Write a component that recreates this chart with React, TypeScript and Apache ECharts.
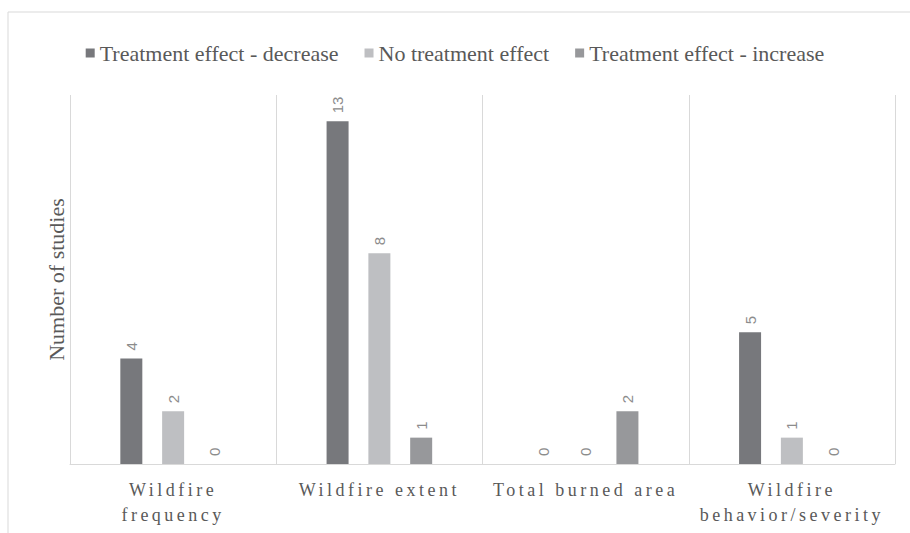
import React, { useEffect, useRef, useState } from "react";
import * as echarts from "echarts";

const categories = ["Wildfire\nfrequency", "Wildfire extent", "Total burned area", "Wildfire\nbehavior/severity"];
const seriesNames = ["Treatment effect - decrease", "No treatment effect", "Treatment effect - increase"];
const decreaseValues = [4, 13, 0, 5];
const noEffectValues = [2, 8, 0, 1];
const increaseValues = [0, 1, 2, 0];
const colors = ["#77787c", "#bebfc2", "#97989b"];

export default function App() {
  const ref = useRef<HTMLDivElement>(null);
  const [dbg, setDbg] = useState("");
  useEffect(() => {
    if (!ref.current) return;
    const chart = echarts.init(ref.current, undefined, { renderer: "svg" });
    const dataSets = [decreaseValues, noEffectValues, increaseValues];
    chart.setOption({
      animation: false,
      backgroundColor: "#ffffff",
      textStyle: { fontFamily: "serif" },
      graphic: [
        {
          type: "rect",
          shape: { x: 8, y: 12, width: 920, height: 540 },
          style: { fill: "none", stroke: "#d9d9d9", lineWidth: 1 },
          silent: true,
        },
      ],
      legend: {
        top: 37,
        left: "center",
        itemWidth: 9,
        itemHeight: 9,
        itemGap: 26,
        icon: "rect",
        textStyle: { fontFamily: "xlg, serif", fontSize: 22, color: "#595959" },
        data: seriesNames,
      },
      grid: { left: 70, right: 15, top: 95, bottom: 69, containLabel: false },
      xAxis: {
        type: "category",
        data: categories,
        axisLine: { show: true, lineStyle: { color: "#d9d9d9", width: 1 } },
        axisTick: { show: false },
        splitLine: { show: true, lineStyle: { color: "#d9d9d9", width: 1 } },
        axisLabel: {
          interval: 0,
          margin: 13,
          fontFamily: "xsp, serif",
          fontSize: 18,
          lineHeight: 25,
          color: "#595959",
        },
      },
      yAxis: {
        type: "value",
        min: 0,
        max: 14,
        interval: 1,
        name: "Number of studies",
        nameLocation: "middle",
        nameGap: 3,
        nameTextStyle: { fontFamily: "serif", fontSize: 22, color: "#595959" },
        axisLine: { show: false },
        axisTick: { show: false },
        axisLabel: { show: false },
        splitLine: { show: false },
      },
      series: dataSets.map((d, i) => ({
        name: seriesNames[i],
        type: "bar",
        data: d,
        barWidth: 22,
        barGap: "90%",
        itemStyle: { color: colors[i] },
        label: {
          show: true,
          position: "top",
          rotate: 90,
          align: "left",
          verticalAlign: "middle",
          distance: 8,
          fontFamily: "'Liberation Sans', sans-serif",
          fontSize: 15,
          color: "#8c8c8c",
        },
      })),
    });
    const texts = Array.from(ref.current.querySelectorAll("text"));
    setDbg(String(texts.length));
    return () => chart.dispose();
  }, []);
  return (
    <>
      <style>{`text[style*="xsp"], text[font-family*="xsp"] { letter-spacing: 3.5px; }
text[style*="xlg"], text[font-family*="xlg"] { font-family: 'Liberation Serif', serif !important; }`}</style>
      <div ref={ref} data-n={dbg} style={{ width: 910, height: 533, position: "absolute", left: 0, top: 0 }} />
    </>
  );
}
